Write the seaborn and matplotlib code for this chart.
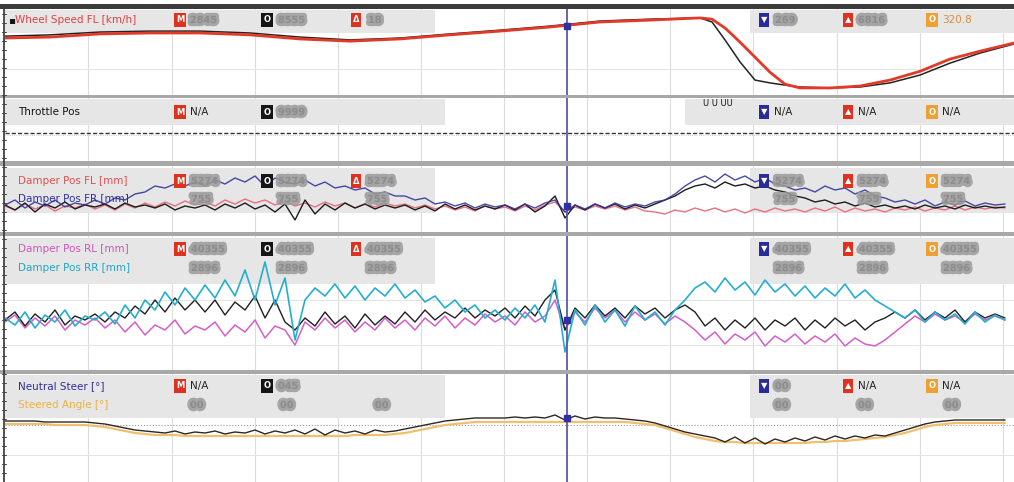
import numpy as np
import seaborn as sns
import matplotlib.pyplot as plt
import matplotlib.patheffects as pe
from matplotlib.patches import Rectangle
from matplotlib.lines import Line2D

sns.set_style('white')
plt.rcParams['font.family'] = ['DejaVu Sans']

# ---- data ----
# wheel speed FL [km/h], two laps
ws_dist = [5, 50, 100, 150, 200, 250, 300, 350, 400, 450, 500, 550, 600, 650, 700,
           712, 725, 740, 755, 770, 785, 800, 830, 860, 890, 920, 950, 980, 1014]
ws_lap_a = [249, 252, 262, 265, 265, 259, 246, 239, 246, 259, 271, 284, 300, 306, 313,
            309, 281, 236, 188, 140, 102, 90, 90, 96, 115, 143, 182, 207, 233]
ws_lap_b = [255, 259, 268, 271, 271, 265, 252, 243, 249, 262, 274, 287, 303, 309, 313,
            300, 243, 173, 115, 106, 99, 93, 90, 93, 106, 131, 169, 201, 230]

# sample positions of the damper / steering traces
dist = np.arange(5, 1015, 10)

# front dampers [mm]
damper_fl = [26, 22, 28, 23, 27, 21, 26, 24, 28, 23,
             27, 22, 28, 24, 29, 25, 30, 26, 31, 27,
             30, 26, 32, 28, 33, 29, 32, 27, 31, 26,
             29, 25, 30, 26, 29, 24, 28, 25, 29, 26,
             28, 24, 27, 23, 26, 22, 25, 21, 26, 23,
             25, 21, 26, 22, 27, 30, 20, 25, 22, 26,
             23, 26, 22, 25, 21, 20, 18, 22, 20, 24,
             21, 24, 20, 23, 19, 23, 20, 24, 21, 23,
             20, 24, 21, 25, 20, 24, 21, 23, 20, 24,
             22, 25, 21, 24, 22, 26, 22, 25, 23, 25, 24]
damper_fr = [27, 32, 24, 30, 26, 32, 25, 29, 27, 32,
             28, 34, 32, 38, 40, 46, 44, 48, 46, 50,
             46, 52, 48, 54, 50, 56, 46, 54, 50, 48,
             52, 46, 50, 44, 46, 42, 44, 38, 40, 36,
             36, 32, 34, 28, 30, 26, 29, 24, 28, 25,
             27, 23, 28, 24, 29, 32, 20, 27, 23, 28,
             24, 29, 25, 28, 26, 30, 32, 38, 46, 52,
             56, 50, 58, 52, 56, 50, 54, 48, 46, 42,
             44, 40, 46, 42, 44, 38, 42, 36, 34, 30,
             32, 28, 32, 26, 30, 27, 31, 26, 29, 27, 28]
damper_front_ref = [27, 22, 29, 20, 28, 24, 30, 23, 27, 25,
                    28, 23, 29, 25, 27, 24, 28, 22, 26, 24,
                    27, 22, 28, 24, 29, 23, 27, 20, 28, 12,
                    32, 18, 28, 22, 29, 24, 28, 23, 27, 24,
                    27, 22, 26, 21, 28, 23, 27, 22, 26, 23,
                    27, 22, 28, 20, 26, 36, 14, 27, 22, 28,
                    24, 28, 23, 27, 24, 28, 32, 36, 42, 46,
                    48, 44, 50, 46, 48, 44, 46, 42, 40, 36,
                    34, 30, 32, 28, 30, 26, 29, 25, 27, 24,
                    26, 23, 27, 24, 26, 23, 27, 24, 26, 24, 25]

# rear dampers [mm]
damper_rl = [48, 55, 42, 52, 44, 54, 40, 50, 45, 52,
             42, 50, 38, 48, 35, 45, 40, 50, 36, 44,
             40, 48, 34, 45, 38, 50, 32, 44, 40, 25,
             48, 40, 52, 42, 50, 38, 48, 40, 52, 42,
             50, 40, 52, 44, 54, 42, 52, 45, 56, 48,
             54, 45, 58, 48, 54, 70, 40, 58, 48, 62,
             52, 60, 48, 58, 50, 56, 46, 54, 48, 40,
             30, 38, 26, 36, 30, 38, 24, 34, 28, 36,
             26, 34, 28, 36, 24, 32, 26, 24, 30, 38,
             46, 54, 48, 56, 50, 54, 48, 56, 50, 54, 50]
damper_rr = [52, 45, 58, 42, 55, 48, 60, 44, 54, 50,
             58, 46, 65, 52, 70, 60, 78, 65, 82, 70,
             85, 72, 90, 74, 100, 70, 108, 65, 92, 30,
             70, 82, 74, 86, 72, 84, 70, 82, 74, 86,
             72, 80, 68, 74, 62, 70, 58, 65, 52, 60,
             50, 62, 52, 65, 48, 90, 18, 60, 45, 65,
             48, 60, 44, 64, 50, 58, 45, 60, 70, 82,
             88, 78, 92, 80, 88, 75, 90, 78, 86, 74,
             84, 72, 82, 74, 86, 72, 80, 70, 64, 58,
             52, 60, 48, 58, 50, 56, 46, 58, 48, 55, 50]
damper_rear_ref = [50, 58, 44, 56, 48, 60, 45, 54, 50, 56,
                   48, 58, 52, 64, 56, 70, 58, 72, 60, 70,
                   58, 70, 55, 68, 60, 74, 52, 70, 48, 40,
                   52, 44, 58, 46, 54, 42, 56, 45, 54, 46,
                   58, 48, 60, 50, 58, 52, 62, 52, 60, 54,
                   62, 52, 64, 54, 70, 80, 40, 62, 52, 65,
                   54, 62, 52, 64, 56, 62, 52, 60, 65, 58,
                   44, 52, 40, 50, 42, 52, 40, 50, 44, 52,
                   40, 50, 42, 52, 44, 50, 40, 48, 52, 58,
                   52, 60, 50, 58, 52, 60, 48, 58, 52, 56, 52]

# steering [deg]
neutral_steer = [2, 2, 2, 2, 1.5, 1.5, 1.5, 1.5, 1.5, 1,
                 0.5, -0.5, -1.5, -2.5, -3, -3.5, -4, -3, -4.5, -3.5,
                 -4, -3, -4.5, -3.5, -4, -2.5, -4.5, -3, -4, -2.5,
                 -4.5, -2, -5, -2.5, -4, -3, -4.5, -2.5, -3.5, -3,
                 -2, -1, 0, 1, 2, 2.5, 3, 3.5, 3.5, 3.5,
                 3.5, 4, 3.5, 4, 3.5, 5, 2.5, 4.5, 3, 4,
                 3.5, 3.5, 3, 2.5, 2, 1, -0.5, -2, -3.5, -4.5,
                 -5.5, -6.5, -8.5, -6, -9, -6.5, -9.5, -7, -8.5, -6.5,
                 -8, -6, -7.5, -5.5, -7, -5.5, -6.5, -5, -5.5, -4,
                 -2.5, -1, 0.5, 1.5, 2, 2.5, 2.5, 2.5, 2.5, 2.5, 2.5]
steered_angle = [0.5, 0.5, 0.5, 0.5, 0.5, 0, 0, 0, 0, -0.5,
                 -1, -2, -3, -4, -4.5, -5, -5, -5, -5.5, -5.5,
                 -5.5, -5.5, -5.5, -5.5, -5.5, -5.5, -5.5, -5.5, -5.5, -5.5,
                 -5.5, -5.5, -5.5, -5.5, -5.5, -5, -5, -5, -5, -4.5,
                 -4, -3, -2, -1, 0, 0.5, 1, 1.5, 1.5, 1.5,
                 1.5, 1.5, 1.5, 1.5, 1.5, 1.5, 1.5, 1.5, 1.5, 1.5,
                 1.5, 1.5, 1.5, 1, 0.5, 0, -1.5, -3, -4.5, -6,
                 -7, -8, -8.5, -8.5, -9, -9, -9, -9, -9, -9,
                 -9, -8.5, -8.5, -8, -8, -7.5, -7, -6.5, -6, -5,
                 -4, -2.5, -1, 0, 0.5, 1, 1, 1, 1, 1, 1]

cursor_pos = 567
grid_pos = [88, 172, 255, 338, 421, 504, 587, 670, 753, 837, 920, 1003]

# ---- layout (pixel based, 1014 x 482) ----
W, H = 1014, 482
fig = plt.figure(figsize=(W / 100, H / 100), dpi=100)
fig.patch.set_facecolor('white')


def fx(x):
    return x / W


def fy(y):
    return 1 - y / H


def add_panel(y0, y1, ylim):
    ax = fig.add_axes([fx(5), fy(y1), (W - 5) / W, (y1 - y0) / H])
    ax.set_xlim(5, 1014)
    ax.set_ylim(*ylim)
    ax.set_xticks([])
    ax.set_yticks([])
    for s in ax.spines.values():
        s.set_visible(False)
    for g in grid_pos:
        ax.axvline(g, color='#dcdcdc', lw=0.8, zorder=0)
    return ax


def band(ax, x0, y0, x1, y1, color='#e6e6e6'):
    ax.add_patch(Rectangle((fx(x0), fy(y1)), fx(x1) - fx(x0), (y1 - y0) / H,
                           transform=fig.transFigure, facecolor=color,
                           edgecolor='none', zorder=0.5))


def box(x, y, glyph, color):
    fig.text(fx(x), fy(y), glyph, color='white', fontsize=6, fontweight='bold',
             ha='center', va='center', zorder=10,
             bbox=dict(boxstyle='square,pad=0.25', fc=color, ec='none'))


def val(x, y, s, color='#222222'):
    fig.text(fx(x), fy(y), s, color=color, fontsize=7.5, ha='left',
             va='center', zorder=10)


def blur(x, y, s='0.000'):
    # values are smudged out in the source screenshot
    fig.text(fx(x), fy(y), s, color='#8c8c8c', fontsize=7, fontweight='bold',
             ha='left', va='center', zorder=10, alpha=0.85,
             path_effects=[pe.withStroke(linewidth=4.5, foreground='#9a9a9a')])


def label(x, y, s, color):
    fig.text(fx(x), fy(y), s, color=color, fontsize=7.5, ha='left',
             va='center', zorder=10)


RED, BLK, NAVY, ORG = '#e0301e', '#151515', '#2a2a9a', '#f0a030'

# panel 1: wheel speed
ax1 = add_panel(9, 95, (67.5, 341.4))
band(ax1, 5, 10, 435, 33)
band(ax1, 750, 10, 1014, 33)
ax1.axhline(150, color='#e4e4e4', lw=0.7, zorder=0)
sns.lineplot(x=ws_dist, y=ws_lap_b, ax=ax1, color='#222222', lw=1.1, zorder=2)
sns.lineplot(x=ws_dist, y=ws_lap_a, ax=ax1, color='#e23a28', lw=2.0, zorder=3)
label(8, 20, '▪', BLK)
label(15, 20, 'Wheel Speed FL [km/h]', '#e04040')
for x, g, c in [(180, 'M', RED), (267, 'O', BLK), (356, 'Δ', RED),
                (764, '▼', NAVY), (848, '▲', RED), (932, 'O', ORG)]:
    box(x, 20, g, c)
blur(190, 20, '2845')
blur(278, 20, '8555')
blur(368, 20, '18')
blur(775, 20, '269')
blur(858, 20, '6816')
val(942, 20, '320.8', '#e08a3a')

# panel 2: throttle
ax2 = add_panel(98, 161, (-28, 35))
band(ax2, 5, 99, 445, 125)
band(ax2, 685, 99, 1014, 125)
ax2.axhline(0, color='#333333', lw=1.0, ls=(0, (3, 1.5)), zorder=2)
ax2.axhline(-2, color='#bdbdbd', lw=0.6, ls=':', zorder=1)
label(18, 112, 'Throttle Pos', BLK)
box(180, 112, 'M', RED)
val(190, 112, 'N/A')
box(267, 112, 'O', BLK)
blur(278, 112, '9999')
fig.text(fx(703), fy(104), 'U U UU', fontsize=6, color=BLK, va='center')
for x, g, c in [(764, '▼', NAVY), (848, '▲', RED), (932, 'O', ORG)]:
    box(x, 112, g, c)
    val(x + 10, 112, 'N/A')

# panel 3: front dampers
ax3 = add_panel(166, 232, (0, 66))
band(ax3, 5, 168, 435, 213)
band(ax3, 750, 168, 1014, 213)
sns.lineplot(x=dist, y=damper_fl, ax=ax3, color='#e87080', lw=1.0, zorder=2)
sns.lineplot(x=dist, y=damper_front_ref, ax=ax3, color='#1c1c1c', lw=1.0, zorder=2)
sns.lineplot(x=dist, y=damper_fr, ax=ax3, color='#35359a', lw=1.0, alpha=0.9, zorder=3)
label(18, 181, 'Damper Pos FL [mm]', '#e05050')
label(18, 199, 'Damper Pos FR [mm]', '#30309a')
for x, g, c in [(180, 'M', RED), (267, 'O', BLK), (356, 'Δ', RED),
                (764, '▼', NAVY), (848, '▲', RED), (932, 'O', ORG)]:
    box(x, 181, g, c)
    blur(x + 11, 181, '5274')
    blur(x + 11, 199, '755')

# panel 4: rear dampers
ax4 = add_panel(236, 370, (0, 134))
band(ax4, 5, 238, 435, 284)
band(ax4, 750, 238, 1014, 284)
ax4.axhline(70, color='#e4e4e4', lw=0.7, zorder=0)
ax4.axhline(25, color='#e4e4e4', lw=0.7, zorder=0)
sns.lineplot(x=dist, y=damper_rl, ax=ax4, color='#d35fc8', lw=1.1, zorder=2)
sns.lineplot(x=dist, y=damper_rear_ref, ax=ax4, color='#202020', lw=1.0, zorder=3)
sns.lineplot(x=dist, y=damper_rr, ax=ax4, color='#25aecf', lw=1.2, zorder=4)
label(18, 249, 'Damper Pos RL [mm]', '#d055c0')
label(18, 268, 'Damper Pos RR [mm]', '#20a6c6')
for x, g, c in [(180, 'M', RED), (267, 'O', BLK), (356, 'Δ', RED),
                (764, '▼', NAVY), (848, '▲', RED), (932, 'O', ORG)]:
    box(x, 249, g, c)
    blur(x + 11, 249, '40355')
    blur(x + 11, 268, '2896')

# panel 5: steering
ax5 = add_panel(374, 482, (-28.5, 25.5))
band(ax5, 5, 375, 445, 418)
band(ax5, 750, 375, 1014, 418)
ax5.axhline(0, color='#9a9a9a', lw=0.8, ls=':', zorder=1)
ax5.axhline(-15, color='#e4e4e4', lw=0.7, zorder=0)
sns.lineplot(x=dist, y=steered_angle, ax=ax5, color='#f0c070', lw=1.6, zorder=2)
sns.lineplot(x=dist, y=neutral_steer, ax=ax5, color='#2e2820', lw=1.0, zorder=3)
label(18, 386, 'Neutral Steer [°]', '#30309a')
label(18, 405, 'Steered Angle [°]', '#f0b040')
box(180, 386, 'M', RED)
val(190, 386, 'N/A')
box(267, 386, 'O', BLK)
blur(278, 386, '045')
for x in [190, 280, 375]:
    blur(x, 405, '00')
box(764, 386, '▼', NAVY)
blur(775, 386, '00')
box(848, 386, '▲', RED)
val(858, 386, 'N/A')
box(932, 386, 'O', ORG)
val(942, 386, 'N/A')
for x in [775, 858, 945]:
    blur(x, 405, '00')

# cursor with its markers
for ax in [ax1, ax2, ax3, ax4, ax5]:
    ax.axvline(cursor_pos, color='#5a5aa8', lw=1.3, zorder=5)
ax1.plot(cursor_pos, 288, marker='s', ms=5, color='#3030a0', zorder=6)
ax3.plot(cursor_pos, 26, marker='s', ms=5, color='#3030a0', zorder=6)
ax4.plot(cursor_pos, 50, marker='s', ms=5, color='#3030a0', zorder=6)
ax5.plot(cursor_pos, 3.5, marker='s', ms=5, color='#3030a0', zorder=6)

# frame: top bar, separators, left ruler
for y0, y1, c in [(4, 9, '#3c3c3c'), (95, 98, '#a8a8a8'), (161, 166, '#a8a8a8'),
                  (232, 236, '#a8a8a8'), (370, 374, '#a8a8a8')]:
    fig.patches.append(Rectangle((0, fy(y1)), 1, (y1 - y0) / H,
                                 transform=fig.transFigure, facecolor=c,
                                 edgecolor='none', zorder=20))
fig.lines.append(Line2D([fx(4), fx(4)], [fy(9), 0], transform=fig.transFigure,
                        color='#333333', lw=1.2, zorder=21))
for y in range(14, 482, 9):
    fig.lines.append(Line2D([fx(2), fx(6)], [fy(y), fy(y)], transform=fig.transFigure,
                            color='#444444', lw=0.7, zorder=21))

fig.savefig('out.png', dpi=100)
